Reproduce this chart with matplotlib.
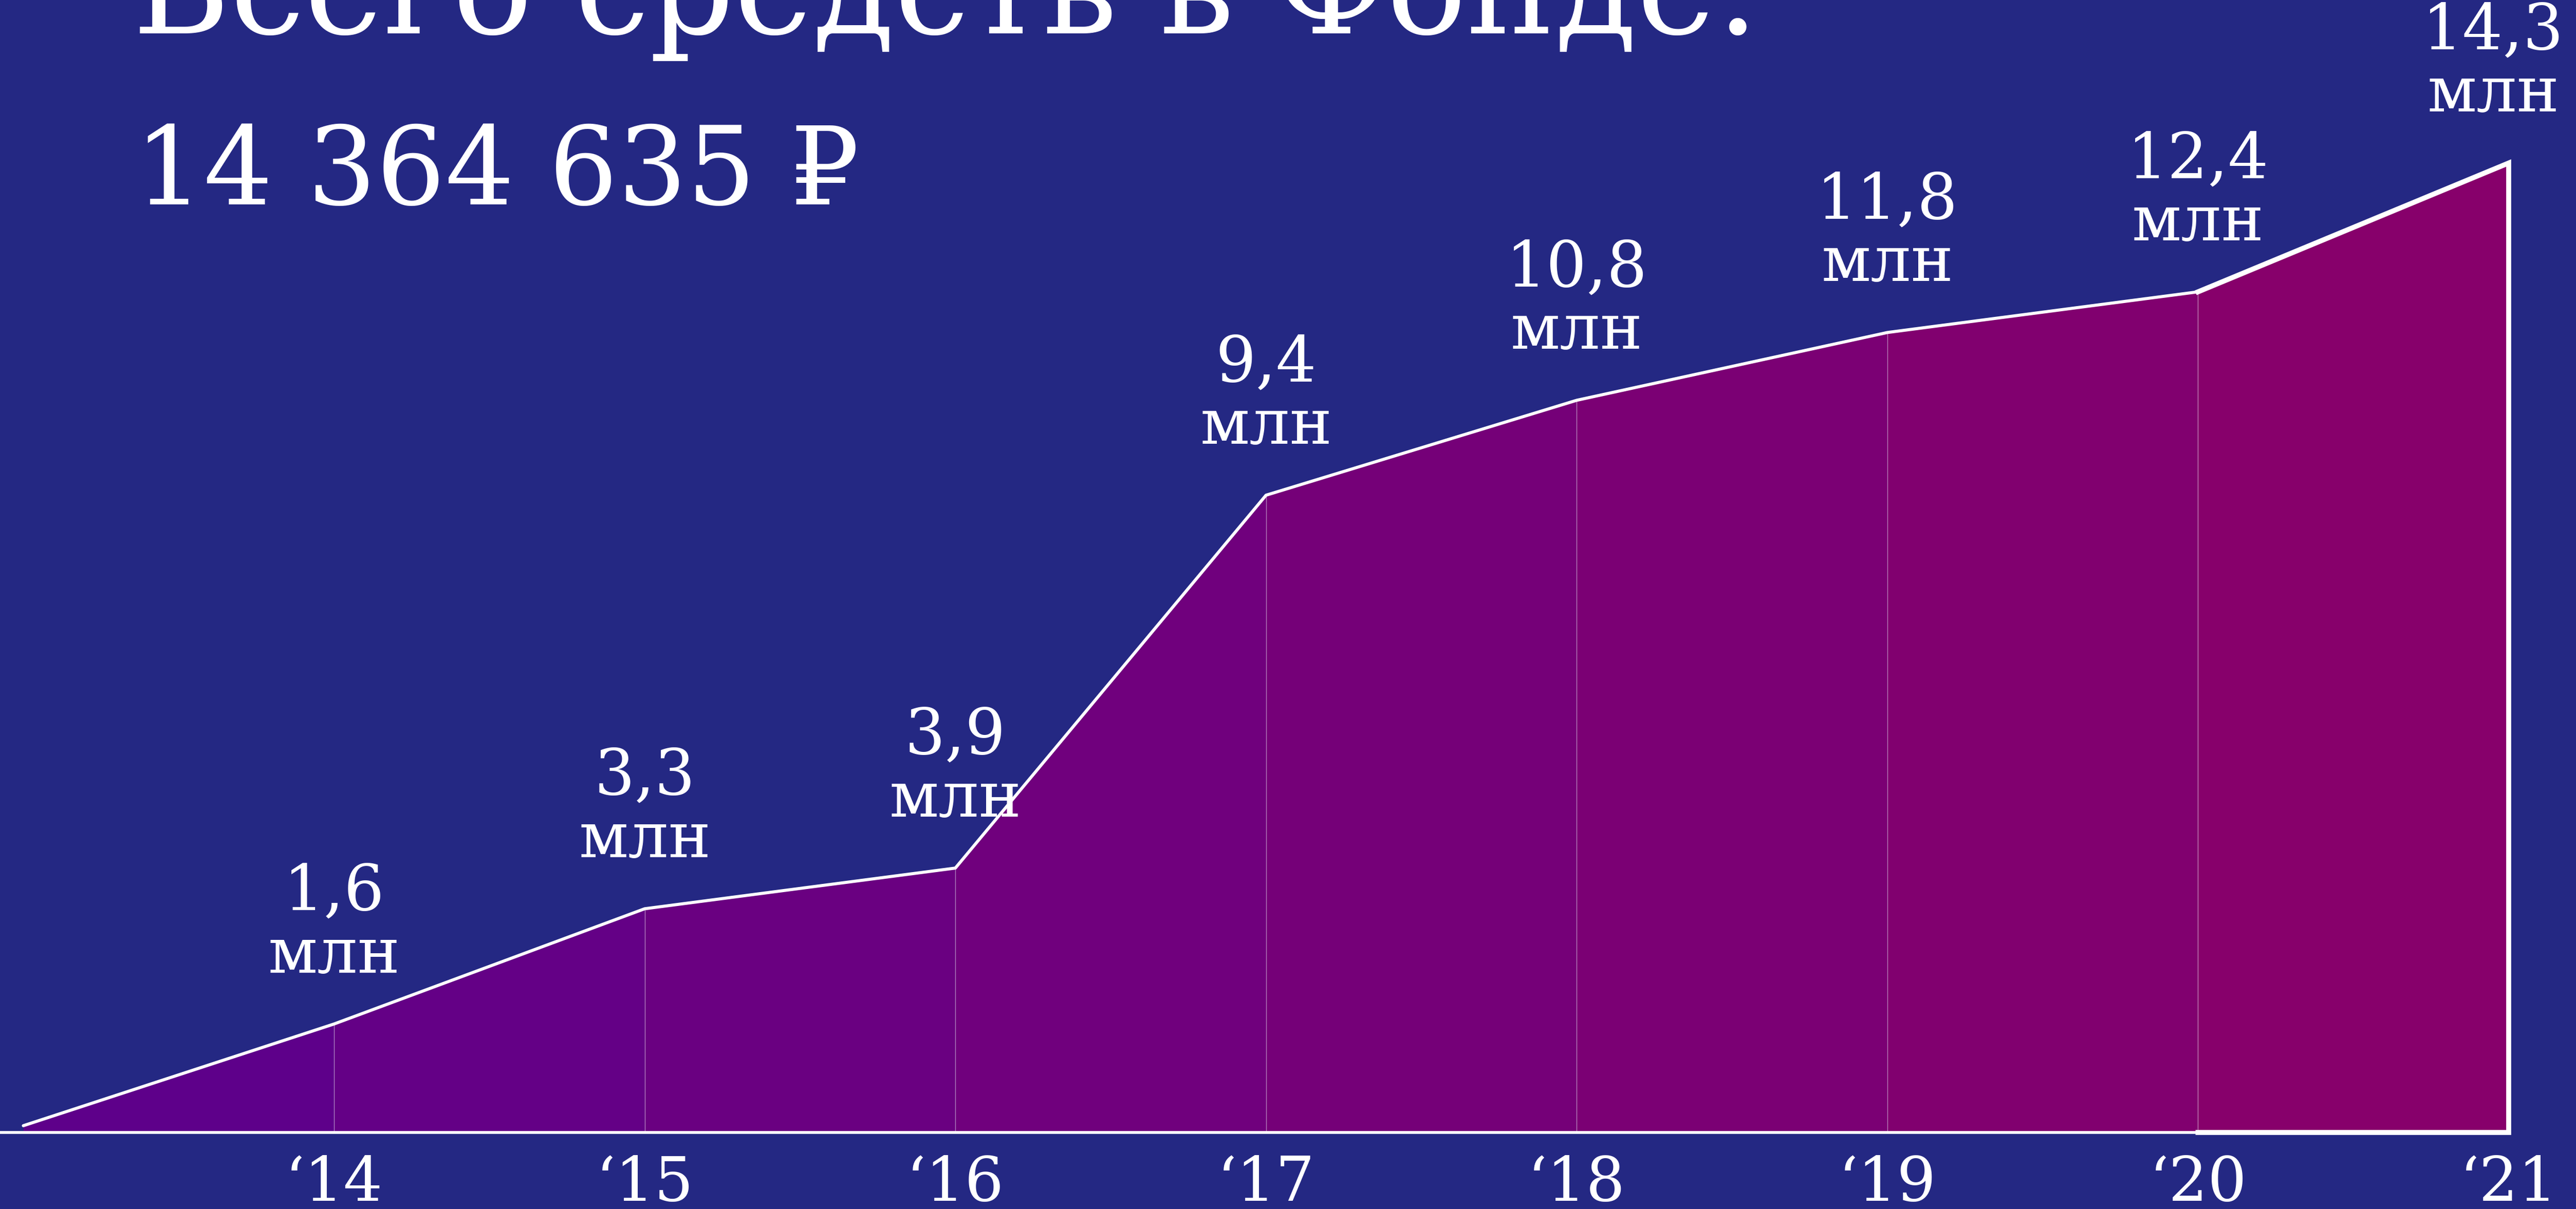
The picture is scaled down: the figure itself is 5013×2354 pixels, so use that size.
import matplotlib
matplotlib.use("Agg")
import matplotlib.pyplot as plt
from matplotlib.colors import LinearSegmentedColormap

# данные
years = [2013, 2014, 2015, 2016, 2017, 2018, 2019, 2020, 2021]
values = [0.1, 1.6, 3.3, 3.9, 9.4, 10.8, 11.8, 12.4, 14.3]
value_labels = ["", "1,6", "3,3", "3,9", "9,4", "10,8", "11,8", "12,4", "14,3"]
tick_labels = ["", "\u201814", "\u201815", "\u201816", "\u201817", "\u201818", "\u201819", "\u201820", "\u201821"]
title_1 = "Всего средств в Фонде:"
title_2 = "14 364 635 \u20bd"

BG = "#242883"
FONT = ["DejaVu Serif", "DejaVu Sans"]
W, H, DPI = 5013, 2354, 100

fig = plt.figure(figsize=(W / DPI, H / DPI), dpi=DPI, facecolor=BG)
ax = fig.add_axes([0, 0, 1, 1])
ax.set_facecolor(BG)

# масштабы: '14 -> 650 px, '21 -> 4882 px; 0 -> 149 px от низа, 132 px на 1 млн
px_year = (4882 - 650) / 7
ax.set_xlim(2014 - 650 / px_year, 2021 + (W - 4882) / px_year)
ax.set_ylim(-149 / 132, (H - 149) / 132)
ax.axis("off")

cmap = LinearSegmentedColormap.from_list("fund", ["#5e008a", "#87006b"])
n_seg = len(years) - 1
for i in range(n_seg):
    c = cmap(i / (n_seg - 1))
    ax.fill_between(years[i:i + 2], values[i:i + 2], 0, color=c, lw=0, zorder=1)

# тонкие разделители
for x, v in zip(years[1:-1], values[1:-1]):
    ax.plot([x, x], [0, v], color="white", lw=1.0, alpha=0.5, zorder=2)

# линия
ax.plot(years[:-1], values[:-1], color="white", lw=4.3, solid_joinstyle="round",
        solid_capstyle="round", zorder=3)
ax.plot([years[-2], years[-1], years[-1], years[-2]], [values[-2], values[-1], 0, 0],
        color="white", lw=7, solid_joinstyle="miter", zorder=3)
ax.plot([ax.get_xlim()[0], years[-1]], [0, 0], color="white", lw=4, zorder=3)

# подписи значений
for i, (x, v) in enumerate(zip(years, values)):
    if not value_labels[i]:
        continue
    dx = -30 if i == len(years) - 1 else 0
    ax.annotate("млн", (x, v), xytext=(dx, 100), textcoords="offset pixels",
                ha="center", va="baseline", color="white", fontsize=89,
                family=FONT, zorder=4)
    ax.annotate(value_labels[i], (x, v), xytext=(dx, 222), textcoords="offset pixels",
                ha="center", va="baseline", color="white", fontsize=89,
                family=FONT, zorder=4)
    ax.annotate(tick_labels[i], (x, 0), xytext=(0, -133), textcoords="offset pixels",
                ha="center", va="baseline", color="white", fontsize=86,
                family=FONT, zorder=4)

# заголовок
fig.text(258 / W, 1 - 65 / H, title_1, ha="left", va="baseline", color="white",
         fontsize=186, family=FONT)
fig.text(262 / W, 1 - 398 / H, title_2, ha="left", va="baseline", color="white",
         fontsize=152, family=FONT)

fig.savefig("out.png", dpi=DPI, facecolor=BG)
